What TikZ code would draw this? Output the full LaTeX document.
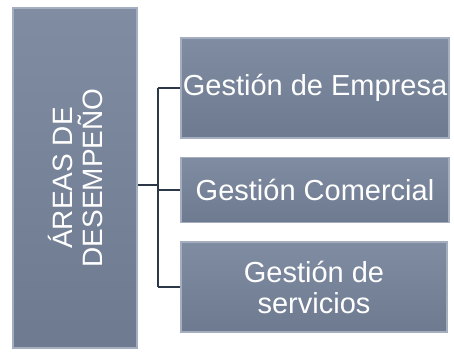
\documentclass[tikz,border=0pt]{standalone}
\usepackage{fontspec}
\setmainfont{Liberation Sans}
\usepackage{tikz}
\usetikzlibrary{positioning}

\definecolor{boxtop}{HTML}{7F8CA2}
\definecolor{boxbot}{HTML}{6E7A8F}
\definecolor{boxedge}{HTML}{A4AEBF}
\definecolor{linkcol}{HTML}{2C3848}

\tikzset{
    areabox/.style={draw=boxedge, line width=1.5pt, top color=boxtop, bottom color=boxbot,
        text=white, align=center, inner sep=1pt, font=\fontsize{29}{31}\selectfont},
    link/.style={draw=linkcol, line width=1.6pt}
}

\begin{document}
\begin{tikzpicture}[x=1pt, y=-1pt]
    \useasboundingbox (0,0) rectangle (454,356);

    \node[areabox, rotate=90, minimum width=340pt, minimum height=124pt,
        font=\fontsize{28}{30}\selectfont] (area) at (75,178) {ÁREAS DE\\DESEMPEÑO};

    \node[areabox, minimum width=268pt, minimum height=100pt] (g1) at (315,88) {Gestión de Empresa};
    \node[areabox, minimum width=268pt, minimum height=65pt] (g2) at (315,190) {Gestión Comercial};
    \node[areabox, minimum width=266pt, minimum height=90pt] (g3) at (314,287) {Gestión de\\servicios};

    \coordinate (split) at (158,185);

    % rotated node: its south side faces right
    \draw[link] (area.south |- split) -- (split);
    \draw[link] (split |- g1.west) -- (split |- g3.west);
    \draw[link] (split |- g1.west) -- (g1.west);
    \draw[link] (split |- g2.west) -- (g2.west);
    \draw[link] (split |- g3.west) -- (g3.west);
\end{tikzpicture}
\end{document}
